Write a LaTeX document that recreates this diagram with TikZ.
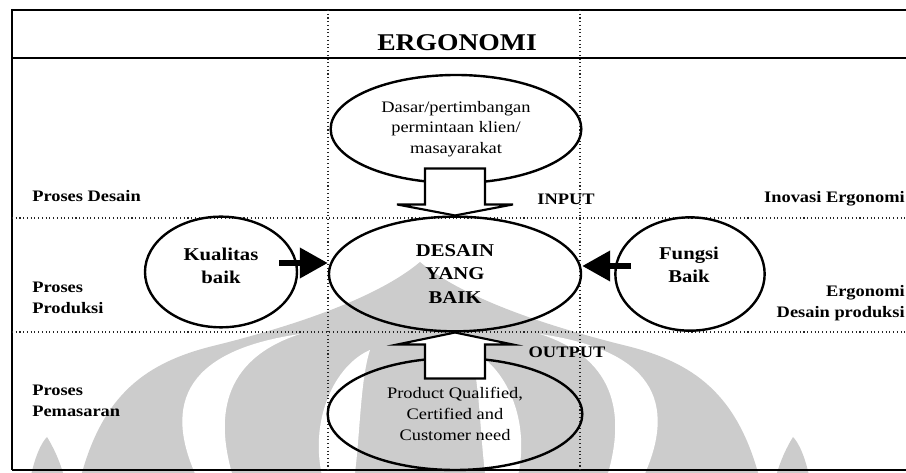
\documentclass[tikz,border=0pt]{standalone}
\usepackage{fontspec}
\setmainfont{Liberation Serif}[FakeStretch=1.15]
\usetikzlibrary{shapes.geometric, arrows.meta}

\tikzset{
  oval/.style = {ellipse, draw=black, line width=1.8pt, inner sep=0pt, align=center, font=\fontsize{12}{15.5}\selectfont},
  ovalbold/.style = {oval, font=\fontsize{13.5}{17.5}\selectfont\bfseries},
  ovaltext/.style = {align=center, inner sep=0pt, font=\fontsize{13.5}{17.5}\selectfont\bfseries},
  rowlabel/.style = {inner sep=0pt, font=\fontsize{12}{15.5}\selectfont\bfseries},
  hollowarrow/.style = {draw=black, line width=1.6pt, fill=white, line join=miter},
  solidarrow/.style = {line width=4.5pt, black, -{Triangle[length=21pt, width=22pt]}},
  gridline/.style = {dotted, line width=0.8pt, black!85},
  frameline/.style = {line width=1.7pt},
  wmark/.style = {fill=black!20},
}

\begin{document}
\begin{tikzpicture}[x=0.75pt, y=-0.75pt]
  \useasboundingbox (0,0) rectangle (906,473);

  % watermark in the background
  \begin{scope}
    \clip (0,0) rectangle (906,473);
    \begin{scope}[shift={(420,0)}]
      \fill[wmark] (-340,480) .. controls (-318,395) and (-275,362) .. (-203,345) .. controls (-135,328) and (-45,300) .. (0,262) .. controls (45,300) and (135,328) .. (203,345) .. controls (275,362) and (318,395) .. (340,480) -- cycle;
      \foreach \s in {1,-1} {
        \begin{scope}[xscale=\s]
          \fill[wmark] (-390,480) .. controls (-385,455) and (-378,442) .. (-373,437) .. controls (-368,445) and (-360,460) .. (-355,480) -- cycle;
          \fill[white] (-222,480) .. controls (-260,400) and (-230,350) .. (-120,334) .. controls (-200,360) and (-205,420) .. (-186,480) -- cycle;
          \fill[white] (-97,480) .. controls (-112,420) and (-85,365) .. (-50,350) .. controls (-60,380) and (-60,440) .. (-66,480) -- cycle;
        \end{scope}
      }
    \end{scope}
  \end{scope}

  % table frame
  \draw[frameline] (12,10) -- (906,10);
  \draw[frameline] (12,58) -- (906,58);
  \draw[frameline] (12,9) -- (12,470);
  \draw[line width=1pt] (12,470) -- (906,470);
  \draw[gridline] (328,10) -- (328,470);
  \draw[gridline] (580,10) -- (580,470);
  \draw[gridline] (12,218) -- (906,218);
  \draw[gridline] (12,332) -- (906,332);

  \node[font=\fontsize{18}{20}\selectfont\bfseries, anchor=base] (title) at (457,51) {ERGONOMI};

  % ellipses
  \node[oval, minimum width=188pt, minimum height=81pt] (demand) at (456,129) {Dasar/pertimbangan\\permintaan klien/\\masayarakat};
  \node[ovalbold, minimum width=189pt, minimum height=86pt] (desain) at (455,274) {DESAIN\\YANG\\BAIK};
  \node[oval, minimum width=114pt, minimum height=83pt] (kualitas) at (221,272) {};
  \node[ovaltext] (kualitastext) at (221,266) {Kualitas\\baik};
  \node[oval, minimum width=112pt, minimum height=85pt] (fungsi) at (690,274) {};
  \node[ovaltext] (fungsitext) at (689,265) {Fungsi\\Baik};
  \node[oval, minimum width=191pt, minimum height=84pt] (product) at (455,414) {Product Qualified,\\Certified and\\Customer need};

  % arrows
  \draw[hollowarrow] (desain.north) -- ++(-58,-11) -- ++(28,0) -- ++(0,-36) -- ++(60,0) -- ++(0,36) -- ++(28,0) -- cycle;
  \draw[hollowarrow] (desain.south) -- ++(-58,12) -- ++(28,0) -- ++(0,34) -- ++(60,0) -- ++(0,-34) -- ++(28,0) -- cycle;
  \coordinate (kstart) at ([shift={(-19,-9)}]kualitas.east);
  \coordinate (fstart) at ([shift={(17,-8)}]fungsi.west);
  \draw[solidarrow] (kstart) -- (kstart -| desain.west);
  \draw[solidarrow] (fstart) -- (fstart -| desain.east);

  % row labels
  \node[rowlabel, anchor=base west] (desainrow) at (32,202) {Proses Desain};
  \node[rowlabel, anchor=base] (input) at (566,205) {INPUT};
  \node[rowlabel, anchor=base east] (inovasi) at (905,203) {Inovasi Ergonomi};
  \node[rowlabel, anchor=west, align=left] (produksirow) at (32,298) {Proses\\Produksi};
  \node[rowlabel, anchor=east, align=right] (ergorow) at (905,303) {Ergonomi\\Desain produksi};
  \node[rowlabel, anchor=base] (output) at (567,358) {OUTPUT};
  \node[rowlabel, anchor=west, align=left] (pasarrow) at (32,401) {Proses\\Pemasaran};
\end{tikzpicture}
\end{document}
